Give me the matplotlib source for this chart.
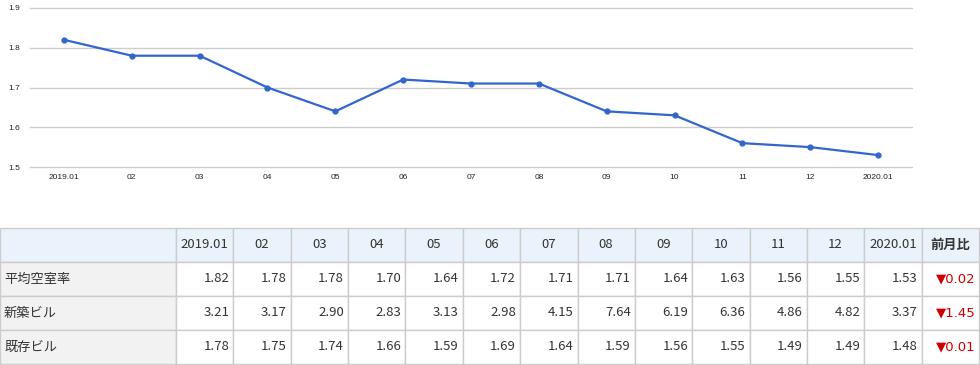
import matplotlib
matplotlib.use("Agg")
import matplotlib.pyplot as plt
from matplotlib.patches import Rectangle

plt.rcParams['font.family'] = ['Noto Sans CJK JP', 'DejaVu Sans']

months = ["2019.01", "02", "03", "04", "05", "06", "07", "08", "09", "10", "11", "12", "2020.01"]
avg_vacancy = [1.82, 1.78, 1.78, 1.70, 1.64, 1.72, 1.71, 1.71, 1.64, 1.63, 1.56, 1.55, 1.53]
new_bldg = [3.21, 3.17, 2.90, 2.83, 3.13, 2.98, 4.15, 7.64, 6.19, 6.36, 4.86, 4.82, 3.37]
old_bldg = [1.78, 1.75, 1.74, 1.66, 1.59, 1.69, 1.64, 1.59, 1.56, 1.55, 1.49, 1.49, 1.48]
row_labels = ["平均空室率", "新築ビル", "既存ビル"]
mom_change = ["▼0.02", "▼1.45", "▼0.01"]
yticks = [1.5, 1.6, 1.7, 1.8, 1.9]

W, H = 980, 365
fig = plt.figure(figsize=(W / 100, H / 100), dpi=100)

# --- line chart ---
x0, x1, y0, y1 = 30, 912, 8, 167
ax = fig.add_axes([x0 / W, 1 - y1 / H, (x1 - x0) / W, (y1 - y0) / H])
xs = list(range(len(months)))
for t in yticks:
    ax.axhline(t, color="#cccccc", linewidth=1, clip_on=False, zorder=1)
ax.plot(xs, avg_vacancy, color="#3366cc", linewidth=1.6, marker="o", markersize=3.5, zorder=3)
ax.set_xlim(-0.5, len(months) - 0.5)
ax.set_ylim(1.5, 1.9)
ax.set_yticks(yticks)
ax.set_yticklabels([f"{v:.1f}" for v in yticks], fontsize=6, color="#222222", family="Liberation Sans")
ax.set_xticks(xs)
ax.set_xticklabels(months, fontsize=6, color="#222222", family="Liberation Sans")
ax.tick_params(length=0)
ax.tick_params(axis="y", pad=7)
ax.tick_params(axis="x", pad=5)
for s in ax.spines.values():
    s.set_visible(False)
ax.set_facecolor("none")

# --- table ---
tax = fig.add_axes([0, 0, 1, 1])
tax.set_xlim(0, W)
tax.set_ylim(H, 0)
tax.axis("off")

label_w = 176
col_w = (979 - label_w) / (len(months) + 1)
row_edges = [228, 262, 296, 330, 364]
col_edges = [0, label_w] + [label_w + col_w * (i + 1) for i in range(len(months) + 1)]
border = "#cccccc"
txt = "#333333"
fs = 9.5

# header row
for c in range(len(col_edges) - 1):
    tax.add_patch(Rectangle((col_edges[c], row_edges[0]), col_edges[c + 1] - col_edges[c],
                            row_edges[1] - row_edges[0], facecolor="#eaf3fb", edgecolor=border, linewidth=1))
for i, m in enumerate(months):
    cx = (col_edges[i + 1] + col_edges[i + 2]) / 2
    tax.text(cx, (row_edges[0] + row_edges[1]) / 2, m, ha="center", va="center", fontsize=fs, color=txt)
tax.text((col_edges[-2] + col_edges[-1]) / 2, (row_edges[0] + row_edges[1]) / 2, "前月比",
         ha="center", va="center", fontsize=fs, color=txt, fontweight="bold")

# body rows
series = [avg_vacancy, new_bldg, old_bldg]
for r, (lab, vals, chg) in enumerate(zip(row_labels, series, mom_change)):
    top, bot = row_edges[r + 1], row_edges[r + 2]
    cy = (top + bot) / 2
    tax.add_patch(Rectangle((0, top), label_w, bot - top, facecolor="#f2f2f2", edgecolor=border, linewidth=1))
    tax.text(4, cy, lab, ha="left", va="center", fontsize=fs, color=txt)
    for i, v in enumerate(vals):
        l, rr = col_edges[i + 1], col_edges[i + 2]
        tax.add_patch(Rectangle((l, top), rr - l, bot - top, facecolor="white", edgecolor=border, linewidth=1))
        tax.text(rr - 4, cy, f"{v:.2f}", ha="right", va="center", fontsize=fs, color=txt)
    l, rr = col_edges[-2], col_edges[-1]
    tax.add_patch(Rectangle((l, top), rr - l, bot - top, facecolor="white", edgecolor=border, linewidth=1))
    tax.text(rr - 3, cy, chg, ha="right", va="center", fontsize=fs, color="#cc0000",
             family=["DejaVu Sans", "Noto Sans CJK JP"])

fig.savefig("out.png", dpi=100)
